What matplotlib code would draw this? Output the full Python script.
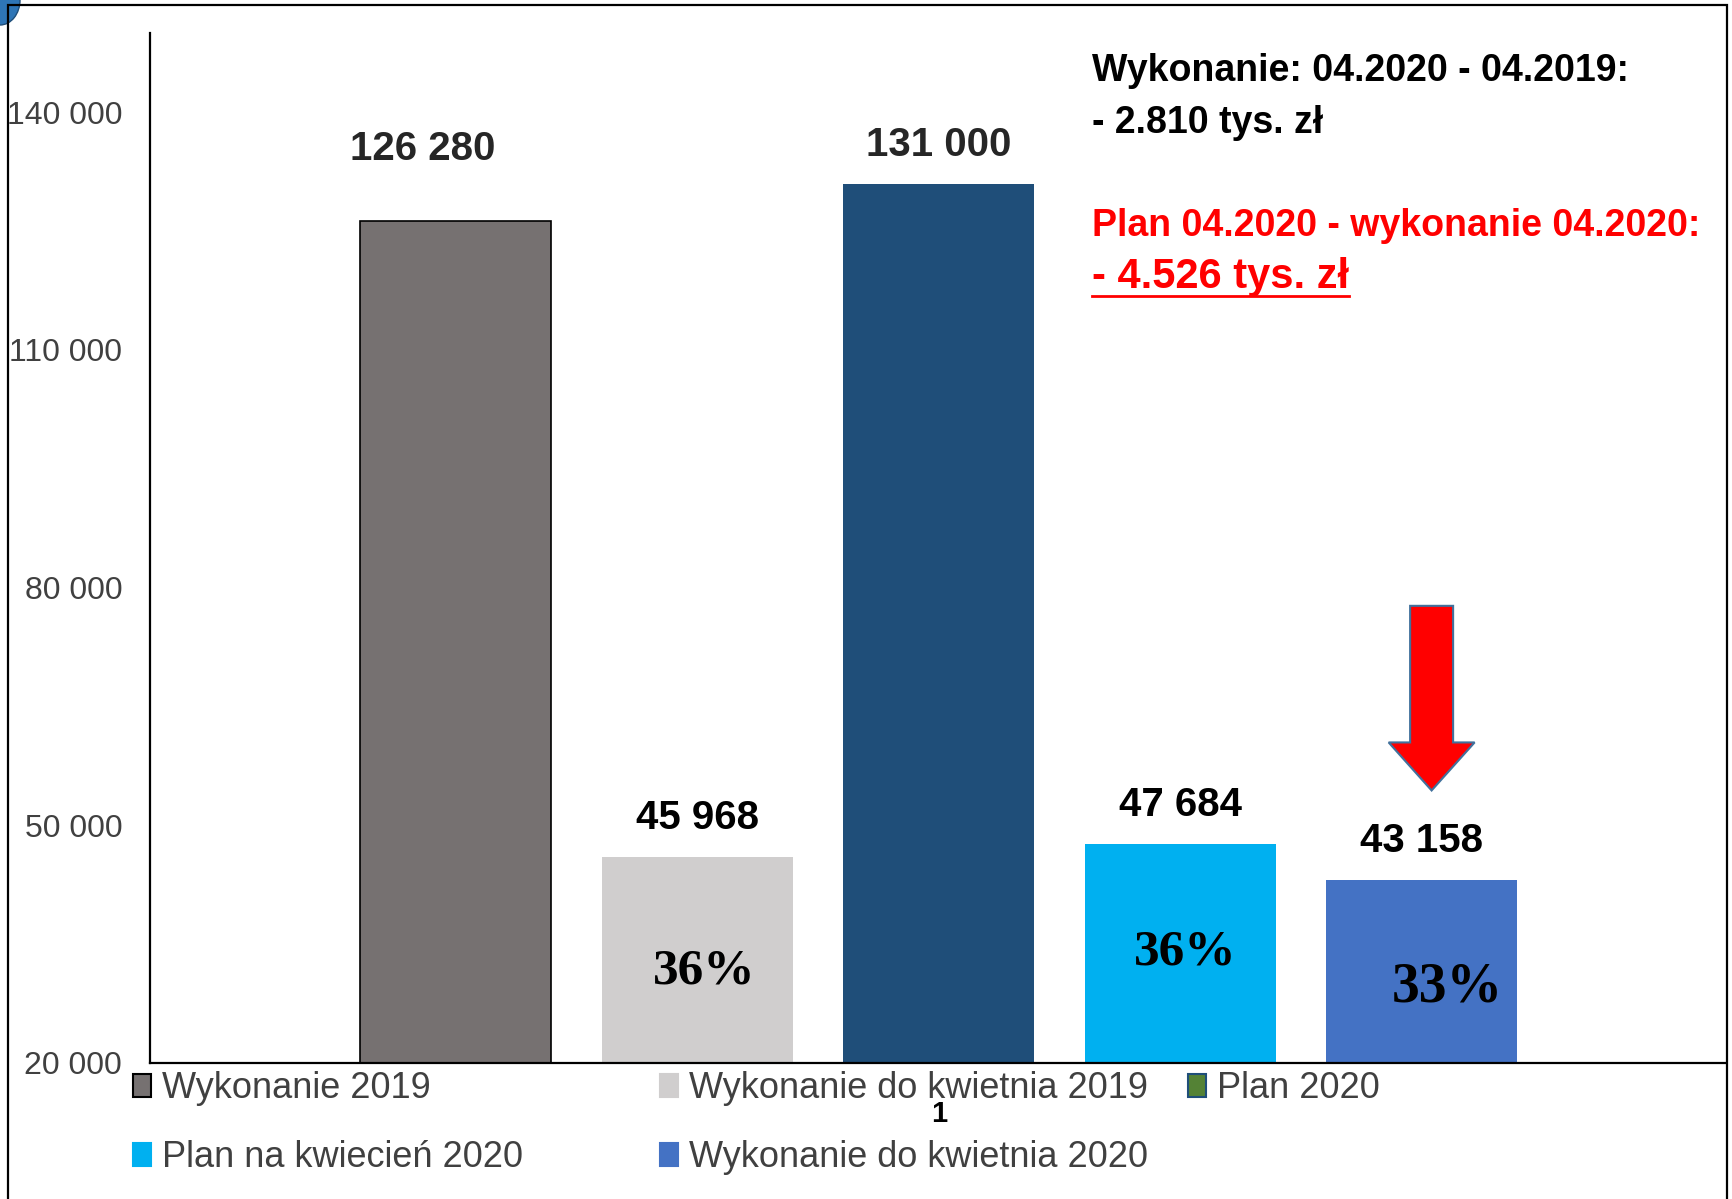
import matplotlib
matplotlib.use('Agg')
from matplotlib import pyplot as plt
from matplotlib import font_manager
from matplotlib.patches import Patch, Rectangle, FancyArrow, Ellipse
from matplotlib.lines import Line2D

# data
series = ['Wykonanie 2019', 'Wykonanie do kwietnia 2019', 'Plan 2020',
          'Plan na kwiecień 2020', 'Wykonanie do kwietnia 2020']
values = [126280, 45968, 131000, 47684, 43158]
value_labels = ['126 280', '45 968', '131 000', '47 684', '43 158']
pct_bars = [1, 3, 4]
pct_labels = ['36%', '36%', '33%']
yticks = [20000, 50000, 80000, 110000, 140000]
ytick_labels = ['20 000', '50 000', '80 000', '110 000', '140 000']
category = '1'

# styling
colors = ['#767171', '#D0CECE', '#1F4E79', '#00B0F0', '#4472C4']
legend_colors = ['#767171', '#D0CECE', '#548235', '#00B0F0', '#4472C4']
legend_edges = ['black', '#D0CECE', '#1F4E79', '#00B0F0', '#4472C4']
label_offsets = [(-24, 52), (0, 28), (0, 28), (0, 28), (0, 28)]
pct_pos = [(0.03, 31600), (0.02, 34000), (0.105, 29500)]
pct_sizes = [37, 37, 40]
arrow = dict(x=4.04, top=77700, tip=54400, head=6060)

sans = 'Liberation Sans'
try:
    font_manager.findfont('Liberation Sans Narrow', fallback_to_default=False)
    legend_font, legend_size = 'Liberation Sans Narrow', 31
except Exception:
    legend_font, legend_size = 'Liberation Sans', 26

fig = plt.figure(figsize=(17.33, 11.99), dpi=100)
ax = fig.add_axes([150/1733, 1 - 1063/1199, 1576/1733, 1030/1199])

x = list(range(len(values)))
ax.bar(x, values, width=0.791, color=colors,
       edgecolor=['black'] + colors, linewidth=[1.2, 0, 0, 0, 0], zorder=2)
ax.set_xlim(-1.267, 5.259)
ax.set_ylim(20000, 150000)

for i, (v, lab) in enumerate(zip(values, value_labels)):
    ax.annotate(lab, (i, v), xytext=label_offsets[i], textcoords='offset points',
                ha='center', va='center', fontsize=29, fontweight='bold',
                family=sans, color='#262626' if i in (0, 2) else 'black')

for b, lab, (sx, sy), fs in zip(pct_bars, pct_labels, pct_pos, pct_sizes):
    ax.text(b + sx, sy, lab, ha='center', va='center', fontsize=fs,
            fontweight='bold', family='Liberation Serif', color='black', zorder=3)

ax.add_patch(FancyArrow(arrow['x'], arrow['top'], 0, arrow['tip'] - arrow['top'],
                        width=0.178, head_width=0.356, head_length=arrow['head'],
                        length_includes_head=True, facecolor='#FF0000',
                        edgecolor='#41719C', linewidth=1.5, zorder=4))

ax.set_yticks(yticks)
ax.set_yticklabels(ytick_labels, fontsize=23, family=sans, color='#404040')
ax.set_xticks([2])
ax.set_xticklabels([category], fontsize=21, fontweight='bold', family=sans)
ax.tick_params(axis='y', length=0, pad=20)
ax.tick_params(axis='x', length=0, pad=27)
for s in ['top', 'right']:
    ax.spines[s].set_visible(False)
ax.spines['left'].set_linewidth(1.6)
ax.spines['bottom'].set_linewidth(1.6)

# legend, one block per column
handles = [Patch(facecolor=c, edgecolor=e, linewidth=1.5)
           for c, e in zip(legend_colors, legend_edges)]
cols = [([0, 3], 133), ([1, 4], 660), ([2], 1188)]
for idx, left in cols:
    leg = fig.legend([handles[i] for i in idx], [series[i] for i in idx],
                     loc='upper left', bbox_to_anchor=(left/1733, 1 - 1071/1199),
                     frameon=False, borderpad=0, borderaxespad=0,
                     handlelength=0.5, handleheight=0.6, handletextpad=0.3,
                     labelspacing=0.94,
                     prop={'family': legend_font, 'size': legend_size})
    for t in leg.get_texts():
        t.set_color('#404040')

# comments top right
fig.text(1092/1733, 1 - 71/1199, 'Wykonanie: 04.2020 - 04.2019:', fontsize=27,
         fontweight='bold', family=sans, va='center', color='black')
fig.text(1092/1733, 1 - 123/1199, '- 2.810 tys. zł', fontsize=27,
         fontweight='bold', family=sans, va='center', color='black')
fig.text(1092/1733, 1 - 226/1199, 'Plan 04.2020 - wykonanie 04.2020:', fontsize=27,
         fontweight='bold', family=sans, va='center', color='#FF0000')
big = fig.text(1092/1733, 1 - 277/1199, '- 4.526 tys. zł', fontsize=30,
               fontweight='bold', family=sans, va='center', color='#FF0000')

fig.canvas.draw()
bb = big.get_window_extent().transformed(fig.transFigure.inverted())
fig.add_artist(Line2D([bb.x0, bb.x1], [1 - 296/1199] * 2, color='#FF0000',
                      linewidth=2, transform=fig.transFigure))

# outer frame and corner logo
fig.add_artist(Rectangle((8/1733, -0.02), 1719/1733, 1.02 - 5/1199, fill=False,
                         edgecolor='black', linewidth=1.6, transform=fig.transFigure))
fig.add_artist(Ellipse((0.0, 1.0), 40/1733, 50/1199, facecolor='#2E75B6',
                       edgecolor='#1F4E79', transform=fig.transFigure, zorder=0))

plt.savefig('out.png', dpi=100)
plt.close('all')
